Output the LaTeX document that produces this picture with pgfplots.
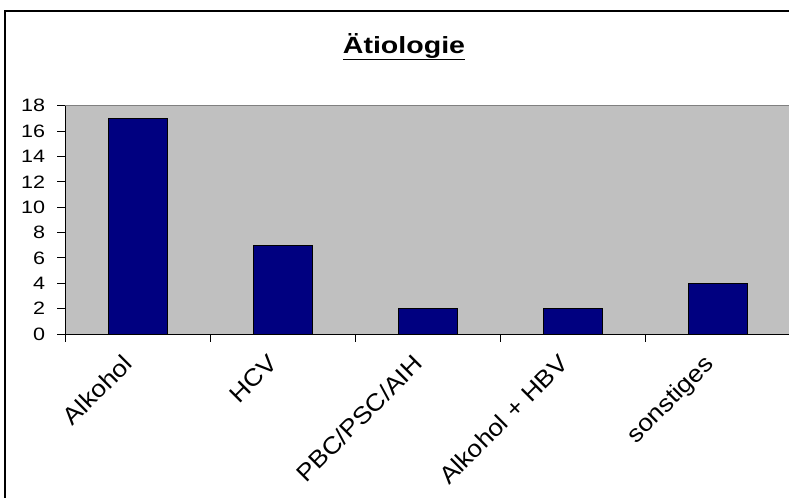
\documentclass[border=0pt]{standalone}
\usepackage{pgfplots}
\pgfplotsset{compat=1.18}
\usepackage{graphicx}
\usepackage{fontspec}
\setmainfont{Liberation Sans}
\definecolor{bggray}{HTML}{C0C0C0}
\definecolor{barblue}{HTML}{000080}
\begin{document}
\begin{tikzpicture}
\useasboundingbox (0bp,0bp) rectangle (789bp,498bp);
\clip (0bp,0bp) rectangle (789bp,498bp);
\fill[white] (0bp,0bp) rectangle (789bp,498bp);
\draw[line width=1.5bp] (5bp,-20bp) rectangle (820bp,487bp);
\node[anchor=base, inner sep=0pt] at (404bp,444.7bp) {\fontsize{23.5}{28}\selectfont\bfseries\scalebox{1.22}[1]{\underline{Ätiologie}}};
\begin{axis}[
  at={(65bp,164bp)}, anchor=south west,
  scale only axis, width=726bp, height=228.3bp,
  xmin=-0.5, xmax=4.5, ymin=0, ymax=18,
  axis x line*=bottom, axis y line*=left,
  axis line style={black, line width=1bp},
  axis background/.style={fill=bggray, draw=gray, line width=1bp},
  ytick={0,2,...,18},
  tick align=outside, major tick length=7.7bp,
  tick style={black, line width=1bp},
  yticklabel style={anchor=east, inner sep=0pt, xshift=-12bp, font=\fontsize{18}{20}\selectfont},
  yticklabel={\scalebox{1.2}[1]{\pgfmathprintnumber[assume math mode=true]{\tick}}},
  xtick={-0.5,0.5,1.5,2.5,3.5,4.5}, xticklabels={,,,,,},
  extra x ticks={0,1,2,3,4},
  extra x tick labels={\scalebox{1.1}[1]{Alkohol},\scalebox{1.1}[1]{HCV},\scalebox{1.1}[1]{PBC/PSC/AIH},\scalebox{1.1}[1]{Alkohol + HBV},\scalebox{1.1}[1]{sonstiges}},
  extra x tick style={major tick length=0pt, xticklabel style={xshift=-16bp, yshift=-19bp, rotate=45, anchor=north east, inner sep=0pt, font=\fontsize{24}{26}\selectfont}},
]
\addplot[ybar, bar width=59bp, fill=barblue, draw=black, line width=1bp] coordinates {(0,17) (1,7) (2,2) (3,2) (4,4)};
\end{axis}
\end{tikzpicture}
\end{document}
